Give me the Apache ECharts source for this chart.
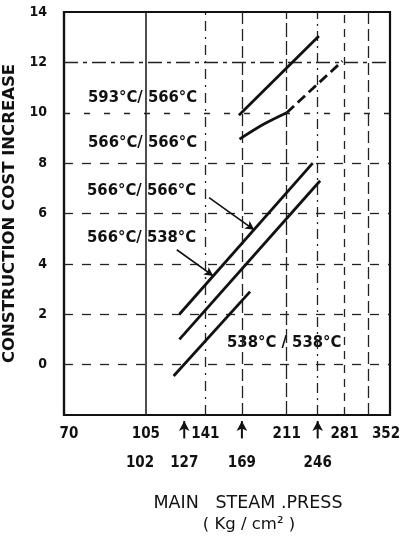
<!DOCTYPE html>
<html>
<head>
<meta charset="utf-8">
<script src="https://cdn.jsdelivr.net/npm/echarts@6/dist/echarts.min.js"></script>
<style>
  html, body { margin: 0; padding: 0; background: #fff; }
  #chart { width: 401px; height: 537px; }
</style>
</head>
<body>
<div id="chart"></div>
<script>
// y axis ticks (cost increase)
var yTicks = [0, 2, 4, 6, 8, 10, 12, 14];
// pressure labels, kg/cm2
var pressTop = [70, 105, 141, 211, 281, 352];
var pressBottom = [102, 127, 169, 246];
var arrowPress = [127, 169, 246];
var gridPress = [105, 141, 169, 211, 246, 281, 316];

// curves [pressure, cost]
var line593 = [[166.5, 9.9], [247.5, 13.05]];
var line566a = [[167, 8.95], [188.5, 9.55], [211, 10.0]];
var line566aDash = [[211, 10.0], [278, 12.05]];
var line566b = [[124, 2.0], [240, 8.0]];
var line538a = [[124, 1.0], [249, 7.3]];
var line538b = [[120.5, -0.45], [176, 2.9]];

// pointer arrows from the labels
var pointer1 = [[143.6, 6.63], [179.6, 5.35]];
var pointer2 = [[122.4, 4.56], [146.6, 3.52]];

var ink = '#111';
var cond = '"DejaVu Sans Condensed", "DejaVu Sans", sans-serif';

var myChart = echarts.init(document.getElementById('chart'));

// 网格线样式
var hDash = { 12: [14, 5, 4, 5], 10: [6, 14], 8: [9, 9], 6: [9, 9], 4: [9, 9], 2: [9, 9], 0: [9, 9] };
var vDash = {
	105: 'solid',
	141: [10, 6, 2, 6],
	169: [12, 5],
	211: [14, 4],
	246: [10, 5, 2, 5],
	281: [8, 6],
	316: [12, 5]
};

var gridLines = [];
yTicks.forEach(function(v) {
	if (v === 14) return;
	gridLines.push({ yAxis: v, lineStyle: { type: hDash[v], color: '#222', width: 1.3 } });
});
gridPress.forEach(function(p) {
	gridLines.push({ xAxis: p, lineStyle: { type: vDash[p], color: '#222', width: p === 105 ? 1.6 : 1.3 } });
});

function curve(data, dashed, smooth) {
	return {
		type: 'line',
		data: data,
		symbol: 'none',
		smooth: smooth ? 0.3 : false,
		lineStyle: { color: ink, width: 2.8, type: dashed ? [10, 5] : 'solid' },
		z: 5
	};
}

var series = [{
	type: 'line',
	data: [],
	markLine: {
		silent: true,
		symbol: 'none',
		label: { show: false },
		animation: false,
		data: gridLines
	}
},
	curve(line593),
	curve(line566a, false, true),
	curve(line566aDash, true),
	curve(line566b),
	curve(line538a),
	curve(line538b),
{
	type: 'line',
	data: [],
	markLine: {
		silent: true,
		symbol: ['none', 'arrow'],
		symbolSize: [7, 9],
		label: { show: false },
		lineStyle: { color: ink, width: 1.6, type: 'solid' },
		animation: false,
		data: [
			[{ coord: pointer1[0] }, { coord: pointer1[1] }],
			[{ coord: pointer2[0] }, { coord: pointer2[1] }]
		]
	}
}];

// arrows under the axis
arrowPress.forEach(function(p) {
	series.push({
		type: 'line',
		clip: false,
		data: [
			{ value: [p, -2.93], symbol: 'none' },
			{ value: [p, -2.24], symbol: 'arrow', symbolSize: [8, 10] }
		],
		showSymbol: true,
		lineStyle: { color: ink, width: 2 },
		itemStyle: { color: ink },
		z: 5
	});
});

function note(text, x, y) {
	return {
		type: 'text', x: x, y: y,
		style: { text: text, fill: ink, fontFamily: cond, fontWeight: 'bold', fontSize: 16.5, verticalAlign: 'middle' }
	};
}

var option = {
	animation: false,
	backgroundColor: '#fff',
	grid: {
		left: 64, right: 11, top: 12, bottom: 122,
		show: true, borderColor: ink, borderWidth: 2.2,
		outerBoundsMode: 'none'
	},
	xAxis: [{
		type: 'log',
		min: 70, max: 352,
		position: 'bottom',
		axisLine: { show: true, onZero: false, lineStyle: { color: ink, width: 2.2 } },
		axisTick: { show: false },
		splitLine: { show: false },
		minorTick: { show: false },
		axisLabel: {
			customValues: pressTop,
			margin: 12,
			color: ink,
			fontFamily: cond,
			fontWeight: 'bold',
			fontSize: 15,
			formatter: function(v) {
				if (v === 70) return '{l|70}';
				if (v === 352) return '{r|352}';
				return v;
			},
			rich: {
				l: { color: ink, fontFamily: cond, fontWeight: 'bold', fontSize: 15, padding: [0, 0, 0, 10] },
				r: { color: ink, fontFamily: cond, fontWeight: 'bold', fontSize: 15, padding: [0, 8, 0, 0] }
			}
		}
	}, {
		type: 'log',
		min: 70, max: 352,
		position: 'bottom',
		axisLine: { show: false },
		axisTick: { show: false },
		splitLine: { show: false },
		axisLabel: {
			customValues: pressBottom,
			margin: 41,
			color: ink,
			fontFamily: cond,
			fontWeight: 'bold',
			fontSize: 15
		}
	}],
	yAxis: {
		type: 'value',
		min: -2, max: 14, interval: 2,
		name: 'CONSTRUCTION COST INCREASE',
		nameLocation: 'middle',
		nameRotate: 90,
		nameGap: 32,
		nameTextStyle: { color: ink, fontFamily: 'DejaVu Sans, sans-serif', fontWeight: 'bold', fontSize: 16.5 },
		axisLine: { show: true, lineStyle: { color: ink, width: 2.2 } },
		axisTick: { show: false },
		splitLine: { show: false },
		axisLabel: {
			margin: 17,
			color: ink,
			fontFamily: cond,
			fontWeight: 'bold',
			fontSize: 14,
			formatter: function(v) { return v < 0 ? '' : v; }
		}
	},
	graphic: [
		note('593°C/ 566°C', 88, 98),
		note('566°C/ 566°C', 88, 143),
		note('566°C/ 566°C', 87, 191),
		note('566°C/ 538°C', 87, 238),
		note('538°C / 538°C', 227, 343),
		{ type: 'text', x: 248, y: 503, style: { text: 'MAIN   STEAM .PRESS', fill: ink, fontFamily: 'DejaVu Sans, sans-serif', fontWeight: 500, fontSize: 17.5, align: 'center', verticalAlign: 'middle' } },
		{ type: 'text', x: 249, y: 525, style: { text: '( Kg / cm² )', fill: ink, fontFamily: 'DejaVu Sans, sans-serif', fontWeight: 500, fontSize: 16.5, align: 'center', verticalAlign: 'middle' } }
	],
	series: series
};
myChart.setOption(option);
</script>
</body>
</html>
